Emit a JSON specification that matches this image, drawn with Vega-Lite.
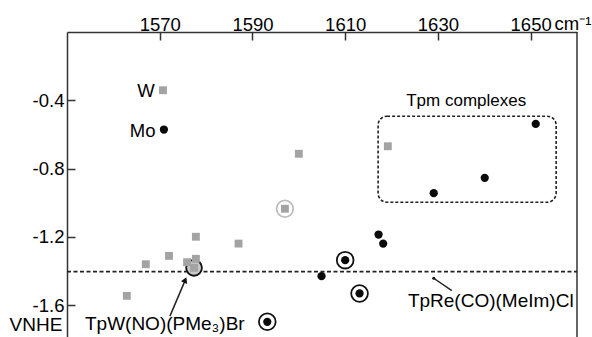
{
  "$schema": "https://vega.github.io/schema/vega-lite/v6.json",
  "autosize": {"type": "none"},
  "padding": {"left": 67, "top": 32, "right": 15, "bottom": 0},
  "width": 510,
  "height": 305,
  "background": "white",
  "config": {
    "view": {"stroke": null},
    "font": "Liberation Sans",
    "text": {"font": "Liberation Sans", "color": "black"}
  },
  "datasets": {
    "W": [
      {"x": 1562.9, "y": -1.545},
      {"x": 1567.0, "y": -1.360},
      {"x": 1572.0, "y": -1.311},
      {"x": 1577.8, "y": -1.199},
      {"x": 1577.8, "y": -1.328},
      {"x": 1575.9, "y": -1.348},
      {"x": 1587.0, "y": -1.239},
      {"x": 1577.4, "y": -1.381},
      {"x": 1597.0, "y": -1.035},
      {"x": 1600.0, "y": -0.713},
      {"x": 1619.2, "y": -0.669},
      {"x": 1570.7, "y": -0.341}
    ],
    "Mo": [
      {"x": 1617.2, "y": -1.186},
      {"x": 1618.2, "y": -1.239},
      {"x": 1610.0, "y": -1.336},
      {"x": 1604.9, "y": -1.430},
      {"x": 1613.1, "y": -1.531},
      {"x": 1593.2, "y": -1.697},
      {"x": 1629.1, "y": -0.944},
      {"x": 1640.1, "y": -0.854},
      {"x": 1651.1, "y": -0.538},
      {"x": 1570.9, "y": -0.571}
    ],
    "rings": [
      {"x": 1610.0, "y": -1.336, "kind": "Mo"},
      {"x": 1613.1, "y": -1.531, "kind": "Mo"},
      {"x": 1593.2, "y": -1.697, "kind": "Mo"},
      {"x": 1597.0, "y": -1.035, "kind": "W"}
    ]
  },
  "encoding": {
    "x": {
      "field": "x", "type": "quantitative",
      "scale": {"domain": [1550, 1660], "nice": false, "zero": false},
      "axis": {
        "orient": "top",
        "values": [1570, 1590, 1610, 1630, 1650],
        "format": "d",
        "grid": false,
        "tickSize": -8,
        "tickColor": "#333",
        "tickWidth": 1.5,
        "domainColor": "#333",
        "domainWidth": 1.5,
        "labelFont": "Liberation Sans",
        "labelFontSize": 18.5,
        "labelColor": "black",
        "labelPadding": 10,
        "labelBaseline": "alphabetic",
        "title": "cm⁻¹",
        "titleFont": "Liberation Sans",
        "titleFontSize": 18.5,
        "titleFontWeight": "normal",
        "titleColor": "black",
        "titleX": 487,
        "titleY": -2.5,
        "titleAlign": "left",
        "titleBaseline": "alphabetic",
        "titleAngle": 0
      }
    },
    "y": {
      "field": "y", "type": "quantitative",
      "scale": {"domain": [-1.786, 0], "nice": false, "zero": false},
      "axis": {
        "orient": "left",
        "values": [-0.4, -0.8, -1.2, -1.6],
        "labelExpr": "'-' + format(abs(datum.value), '.1f')",
        "grid": false,
        "tickSize": -8,
        "tickColor": "#333",
        "tickWidth": 1.5,
        "domainColor": "#333",
        "domainWidth": 1.5,
        "labelFont": "Liberation Sans",
        "labelFontSize": 18.5,
        "labelColor": "black",
        "labelPadding": 11,
        "title": null
      }
    }
  },
  "layer": [
    {
      "data": {"values": [{"x": 1660, "y": 0, "y2": -1.786}]},
      "mark": {"type": "rule", "color": "#333", "strokeWidth": 1.5},
      "encoding": {"y2": {"field": "y2"}}
    },
    {
      "data": {"values": [{"x": 1550, "x2": 1660, "y": -1.403}]},
      "mark": {"type": "rule", "color": "#222", "strokeWidth": 1.8, "strokeDash": [4, 2.5]},
      "encoding": {"x2": {"field": "x2"}}
    },
    {
      "data": {"values": [{"x": 1617.1, "x2": 1655.5, "y": -0.493, "y2": -0.997}]},
      "mark": {"type": "rect", "fill": null, "fillOpacity": 0, "stroke": "#222", "strokeWidth": 1.6, "strokeDash": [3, 2], "cornerRadius": 9},
      "encoding": {"x2": {"field": "x2"}, "y2": {"field": "y2"}}
    },
    {
      "data": {"values": [
        {"x": 1572.2, "y": -1.664, "x2": 1575.6, "y2": -1.447},
        {"x": 1629.1, "y": -1.442, "x2": 1633.0, "y2": -1.514}
      ]},
      "mark": {"type": "rule", "color": "#222", "strokeWidth": 1.5},
      "encoding": {"x2": {"field": "x2"}, "y2": {"field": "y2"}}
    },
    {
      "data": {"values": [{"x": 1575.5, "y": -1.452}]},
      "mark": {"type": "point", "shape": "triangle-up", "angle": 23, "size": 45, "filled": true, "color": "#111", "opacity": 1}
    },
    {
      "data": {"values": [{"x": 1629.1, "y": -1.442}]},
      "mark": {"type": "point", "shape": "circle", "size": 9, "filled": true, "color": "#111", "opacity": 1}
    },
    {
      "data": {"values": [{"x": 1577.4, "y": -1.381}]},
      "mark": {"type": "point", "shape": "circle", "size": 250, "filled": true, "fill": "#c8c8c8", "stroke": "#111", "strokeWidth": 1.8, "opacity": 1}
    },
    {
      "data": {"name": "rings"},
      "mark": {"type": "point", "shape": "circle", "size": 280, "filled": false, "strokeWidth": 1.8, "opacity": 1},
      "encoding": {
        "color": {"field": "kind", "type": "nominal", "scale": {"domain": ["Mo", "W"], "range": ["#111", "#bdbdbd"]}, "legend": null}
      }
    },
    {
      "data": {"name": "W"},
      "mark": {"type": "point", "shape": "square", "size": 62, "filled": true, "color": "#a3a3a3", "opacity": 1}
    },
    {
      "data": {"name": "Mo"},
      "mark": {"type": "point", "shape": "circle", "size": 68, "filled": true, "color": "#0a0a0a", "opacity": 1}
    },
    {
      "data": {"values": [
        {"x": 1568.9, "y": -0.341, "label": "W"},
        {"x": 1569.1, "y": -0.571, "label": "Mo"}
      ]},
      "mark": {"type": "text", "align": "right", "baseline": "middle", "fontSize": 18.5, "dy": 1},
      "encoding": {"text": {"field": "label"}}
    },
    {
      "data": {"values": [
        {"x": 1636.1, "y": -0.405, "label": "Tpm complexes"}
      ]},
      "mark": {"type": "text", "align": "center", "baseline": "middle", "fontSize": 17},
      "encoding": {"text": {"field": "label"}}
    },
    {
      "data": {"values": [
        {"x": 1571.1, "y": -1.712, "label": "TpW(NO)(PMe₃)Br"},
        {"x": 1641.4, "y": -1.578, "label": "TpRe(CO)(MeIm)Cl"}
      ]},
      "mark": {"type": "text", "align": "center", "baseline": "middle", "fontSize": 19},
      "encoding": {"text": {"field": "label"}}
    },
    {
      "data": {"values": [
        {"x": 1543.3, "y": -1.717, "label": "VNHE"}
      ]},
      "mark": {"type": "text", "align": "center", "baseline": "middle", "fontSize": 19},
      "encoding": {"text": {"field": "label"}}
    }
  ]
}
